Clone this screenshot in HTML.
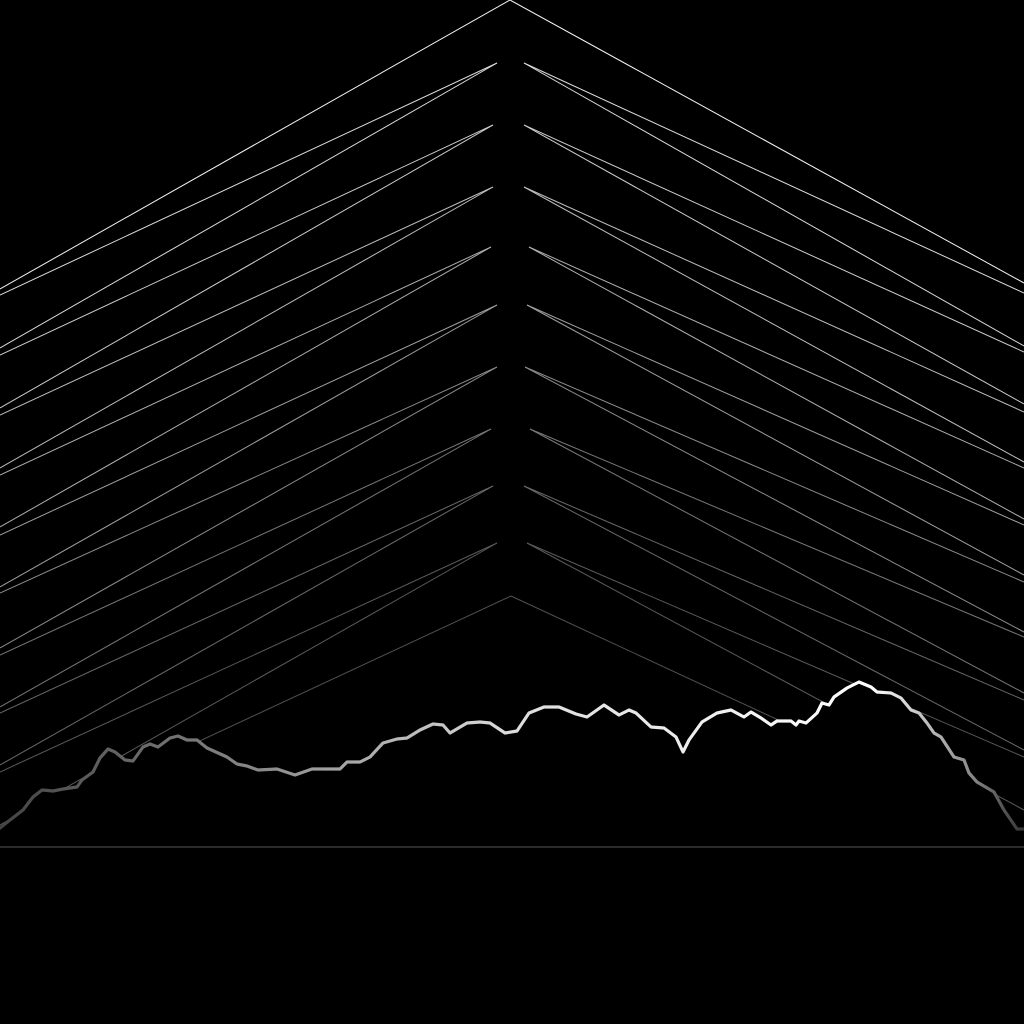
<!DOCTYPE html>
<html><head><meta charset="utf-8"><style>
html,body{margin:0;padding:0;background:#000;width:1024px;height:1024px;overflow:hidden}
svg{display:block}
</style></head><body>
<svg id="chart" width="1024" height="1024" viewBox="0 0 1024 1024" xmlns="http://www.w3.org/2000/svg">
<defs>
<linearGradient id="ridgeGrad" x1="0" y1="0" x2="1024" y2="0" gradientUnits="userSpaceOnUse">
<stop offset="0" stop-color="#444"/>
<stop offset="0.25" stop-color="#888"/>
<stop offset="0.5" stop-color="#ddd"/>
<stop offset="0.85" stop-color="#fff"/>
<stop offset="0.95" stop-color="#888"/>
<stop offset="1" stop-color="#333"/>
</linearGradient>
</defs>
<rect x="0" y="0" width="1024" height="1024" fill="#000"/>
<g id="lines"></g>
<path id="mask" fill="#000"/>
<path id="ridge" fill="none" stroke="url(#ridgeGrad)" stroke-width="3.2" stroke-linejoin="round" stroke-linecap="round"/>
<line x1="0" y1="847" x2="1024" y2="847" stroke="#2a2a2a" stroke-width="2"/>
</svg>
<script>
// chevron data (apex heights and edge endpoints)
const apexY = [63,125,187,247,305,367,429,486,543];
const apexLeftX = [497,493,493,491,497,497,491,493,497];
const apexRightX = [524,524,524,529,527,525,530,524,527];
const leftUpperEnd = [295,355,415,475,535,593,655,713,772];
const leftLowerEnd = [348,408,468,527,587,648,707,765,825];
const rightUpperEnd = [293,352,412,468,525,582,637,700,757];
const rightLowerEnd = [346,404,462,519,575,632,693,750,810];
const lineShade = [220,205,190,175,160,140,120,105,90];
const topApex = [510,0];
const topEnds = [289,283];
const bottomApex = [511,596];
const bottomEnds = [834,834];
// ridge
const ridgeX = [0,10,23,33,42,53,63,77,82,93,100,108,115,125,133,143,150,158,170,178,187,197,207,227,237,247,258,277,295,312,340,347,360,370,383,397,407,420,433,443,450,467,480,490,505,517,529,544,559,576,587,604,619,629,636,651,664,676,683,689,702,717,731,744,751,761,771,777,791,796,799,806,817,822,829,834,847,859,871,877,891,901,911,919,927,934,941,954,964,969,977,994,1004,1017,1024];
const ridgeY = [828,820,810,797,790,791,789,787,780,772,758,749,752,760,761,747,744,747,738,736,740,740,748,757,764,766,770,769,775,769,769,762,762,757,743,739,738,730,724,725,733,723,722,723,733,731,713,707,707,714,717,705,715,710,713,727,728,737,752,740,722,713,710,717,712,718,725,721,721,725,721,723,713,703,705,697,688,682,687,692,693,698,710,713,723,733,737,757,760,773,782,792,810,829,829];

const NS = 'http://www.w3.org/2000/svg';
const g = document.getElementById('lines');
function ln(x1,y1,x2,y2,shade,name){
  const l = document.createElementNS(NS,'line');
  l.setAttribute('x1',x1);l.setAttribute('y1',y1);l.setAttribute('x2',x2);l.setAttribute('y2',y2);
  l.setAttribute('stroke',`rgb(${shade},${shade},${shade})`);
  l.setAttribute('stroke-width','1');
  
  
  g.appendChild(l);
}
ln(topApex[0],topApex[1],0,topEnds[0],245,'top-chevron-left');
ln(topApex[0],topApex[1],1024,topEnds[1],245,'top-chevron-right');
for(let k=0;k<apexY.length;k++){
  ln(apexLeftX[k],apexY[k],0,leftUpperEnd[k],lineShade[k],'chevron-left-upper');
  ln(apexLeftX[k],apexY[k],0,leftLowerEnd[k],lineShade[k],'chevron-left-lower');
  ln(apexRightX[k],apexY[k],1024,rightUpperEnd[k],lineShade[k],'chevron-right-upper');
  ln(apexRightX[k],apexY[k],1024,rightLowerEnd[k],lineShade[k],'chevron-right-lower');
}
ln(bottomApex[0],bottomApex[1],0,bottomEnds[0],80,'bottom-chevron-left');
ln(bottomApex[0],bottomApex[1],1024,bottomEnds[1],80,'bottom-chevron-right');

let d='';
for(let i=0;i<ridgeX.length;i++) d += (i?'L':'M')+ridgeX[i]+' '+ridgeY[i]+' ';
document.getElementById('ridge').setAttribute('d',d);
document.getElementById('mask').setAttribute('d',d+'L1024 1024 L0 1024 Z');
</script>
</body></html>
